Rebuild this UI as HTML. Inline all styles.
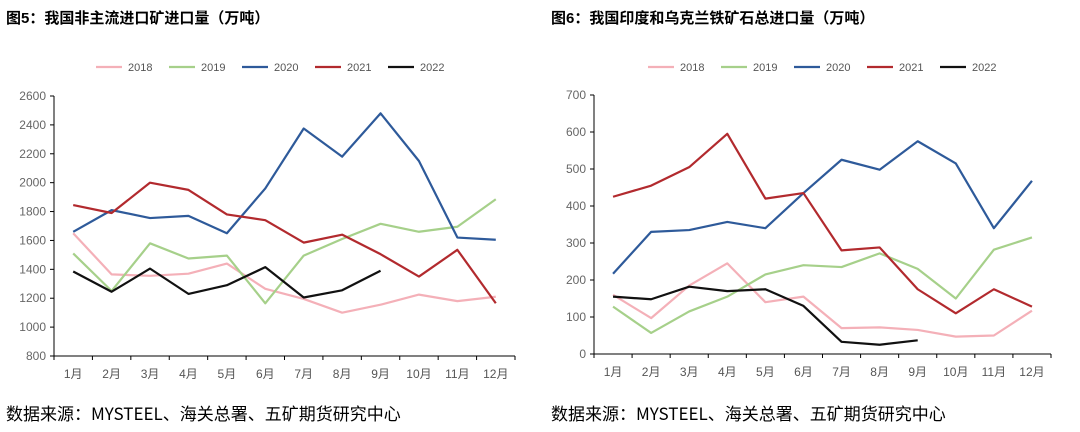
<!DOCTYPE html>
<html><head><meta charset="utf-8"><style>
body{margin:0;background:#fff;width:1080px;height:432px;overflow:hidden;font-family:"Liberation Sans","Noto Sans CJK SC",sans-serif}
svg{position:absolute;left:0;top:0}
</style></head><body>
<svg id="c" width="1080" height="432"></svg>
<script>
const months=["1月","2月","3月","4月","5月","6月","7月","8月","9月","10月","11月","12月"];
const years=["2018","2019","2020","2021","2022"];
const colors=["#f4b0b8","#a6d08a","#2e5a9a","#b22a2e","#111111"];
const left2018=[1650,1365,1355,1370,1440,1265,1195,1100,1155,1225,1180,1210];
const left2019=[1510,1250,1580,1475,1495,1165,1495,1610,1715,1660,1695,1885];
const left2020=[1660,1810,1755,1770,1650,1960,2375,2180,2480,2150,1620,1605];
const left2021=[1845,1790,2000,1950,1780,1740,1585,1640,1505,1350,1535,1165];
const left2022=[1385,1245,1405,1230,1290,1415,1205,1255,1390];
const leftTicks=[800,1000,1200,1400,1600,1800,2000,2200,2400,2600];
const right2018=[160,97,185,245,140,155,70,72,65,47,50,117];
const right2019=[128,57,115,155,215,240,235,272,230,150,282,315];
const right2020=[217,330,335,357,340,435,525,498,575,515,340,468];
const right2021=[425,455,505,595,420,435,280,288,175,110,175,128];
const right2022=[155,148,182,170,175,130,33,25,37];
const rightTicks=[0,100,200,300,400,500,600,700];
const NS="http://www.w3.org/2000/svg";
const svg=document.getElementById('c');
function mk(t,a,p){const e=document.createElementNS(NS,t);for(const k in a)e.setAttribute(k,a[k]);(p||svg).appendChild(e);return e;}
function chart(id,ax,top,bot,right,ticks,series,title,tx,legX){
  const g=mk('g',{});
  
  
  const t=mk('text',{x:tx,y:23,'font-size':15,'font-weight':'bold',fill:'#000'},g);t.textContent=title;
  
  const mn=ticks[0],mx=ticks[ticks.length-1];
  const y=v=>bot-(v-mn)/(mx-mn)*(bot-top);
  const step=(right-ax)/12;
  const x=i=>ax+step*(i+0.5);
  mk('line',{x1:ax,y1:top,x2:ax,y2:bot,stroke:'#000','stroke-width':1},g);
  mk('line',{x1:ax,y1:bot,x2:right,y2:bot,stroke:'#000','stroke-width':1},g);
  ticks.forEach(v=>{mk('line',{x1:ax-4,y1:y(v),x2:ax,y2:y(v),stroke:'#000'},g);
    const l=mk('text',{x:ax-8,y:y(v)+4,'text-anchor':'end','font-size':12,fill:'#666'},g);l.textContent=v;
    });
  for(let i=0;i<=12;i++)mk('line',{x1:ax+step*i,y1:bot,x2:ax+step*i,y2:bot+4,stroke:'#000'},g);
  months.forEach((m,i)=>{const l=mk('text',{x:x(i),y:bot+22,'text-anchor':'middle','font-size':12,fill:'#555'},g);l.textContent=m;
    });
  series.forEach((s,k)=>{
    const p=mk('polyline',{points:s.map((v,i)=>x(i)+','+y(v)).join(' '),fill:'none',stroke:colors[k],'stroke-width':2.2,'stroke-linejoin':'round'},g);
    
    const lx=legX+k*73;
    const ll=mk('line',{x1:lx,y1:67,x2:lx+26,y2:67,stroke:colors[k],'stroke-width':2.2},g);
    
    const lt=mk('text',{x:lx+32,y:71,'font-size':11,fill:'#555'},g);lt.textContent=years[k];
    
  });
  const src=mk('text',{x:tx,y:420,'font-size':17,fill:'#000','font-family':'"Noto Sans CJK SC",sans-serif'},g);src.textContent="数据来源：MYSTEEL、海关总署、五矿期货研究中心";
  
}
chart('left-chart',54,96,356,515,leftTicks,[left2018,left2019,left2020,left2021,left2022],"图5：我国非主流进口矿进口量（万吨）",6,96);
chart('right-chart',594,95,354,1051,rightTicks,[right2018,right2019,right2020,right2021,right2022],"图6：我国印度和乌克兰铁矿石总进口量（万吨）",551,648);
</script></body></html>
